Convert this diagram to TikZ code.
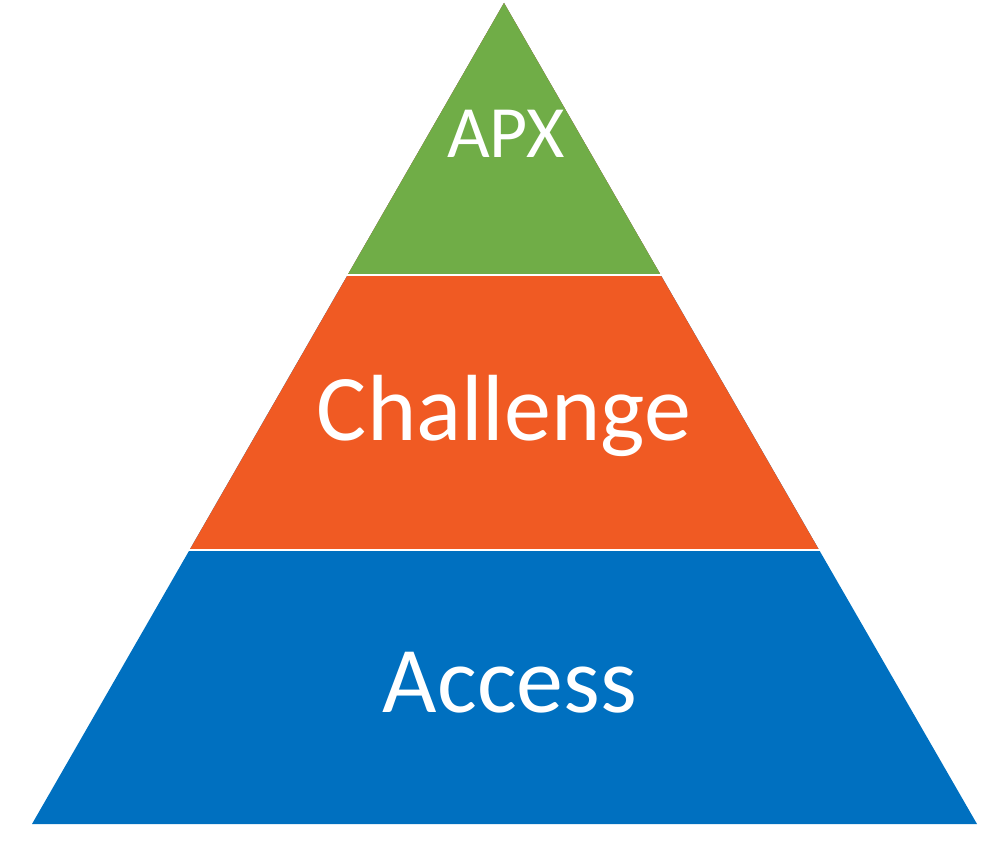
\documentclass[tikz,border=0pt]{standalone}
\usepackage{fontspec}
\setmainfont{Carlito}
\usetikzlibrary{calc}
\definecolor{apxgreen}{RGB}{112,173,71}
\definecolor{challorange}{RGB}{240,90,35}
\definecolor{accblue}{RGB}{0,112,192}

\begin{document}
\begin{tikzpicture}
  [x=0.02cm,y=-0.02cm,every node/.style={text=white,anchor=base,inner sep=0pt}]
  \useasboundingbox (0,0) rectangle (1000,841);
  \coordinate (top) at (504,3);
  \coordinate (bl) at (32,824);
  \coordinate (br) at (977,824);

  % layers
  \fill[accblue] (top) -- (bl) -- (br) -- cycle;
  \fill[challorange] (top) -- ($(top)!.6663!(bl)$) -- ($(top)!.6663!(br)$) -- cycle;
  \fill[apxgreen] (top) -- ($(top)!.3313!(bl)$) -- ($(top)!.3313!(br)$) -- cycle;
  \draw[white,line width=0.04cm] (0,275) -- (1000,275);
  \draw[white,line width=0.04cm] (0,550) -- (1000,550);

  \node (apx) at (506,158) {\fontsize{42}{42}\selectfont APX};
  \node (challenge) at (504,440) {\fontsize{53.5}{53.5}\selectfont Challenge};
  \node (access) at (510,712) {\fontsize{53.5}{53.5}\selectfont Access};
\end{tikzpicture}
\end{document}
